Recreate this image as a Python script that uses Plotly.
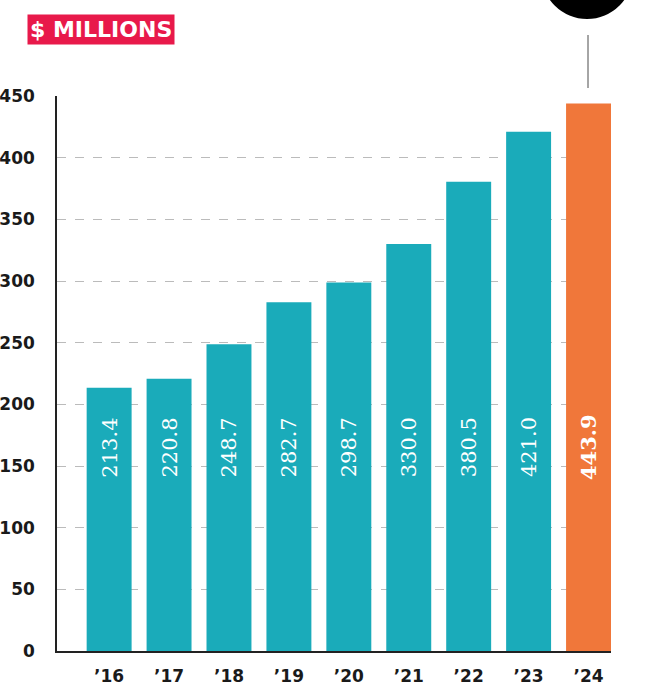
import plotly.graph_objects as go

years = ["’16", "’17", "’18", "’19", "’20", "’21", "’22", "’23", "’24"]
values = [213.4, 220.8, 248.7, 282.7, 298.7, 330.0, 380.5, 421.0, 443.9]
labels = ["213.4", "220.8", "248.7", "282.7", "298.7", "330.0", "380.5", "421.0", "443.9"]
y_ticks = [0, 50, 100, 150, 200, 250, 300, 350, 400, 450]

TEAL = "#1AABBA"
ORANGE = "#F0773A"
colors = [TEAL] * (len(years) - 1) + [ORANGE]

fig = go.Figure()
fig.add_trace(go.Bar(
    x=list(range(len(years))), y=values, marker=dict(color=colors, line=dict(width=0)),
    width=0.75, hoverinfo="skip",
))

SERIF = "DejaVu Serif"
LABEL_Y = 165
for i, (lab, v) in enumerate(zip(labels, values)):
    last = i == len(years) - 1
    fig.add_annotation(
        x=i, y=LABEL_Y, xref="x", yref="y", text=f"<b>{lab}</b>" if last else lab,
        textangle=-90, showarrow=False,
        font=dict(family=SERIF, size=21, color="white"),
    )

# title box
fig.add_annotation(
    x=-0.054, y=1.119, xref="paper", yref="paper", xanchor="left", yanchor="middle",
    text="<b>$ MILLIONS</b>", showarrow=False, bgcolor="#E8194A", borderpad=2,
    font=dict(family="DejaVu Sans", size=22, color="white"),
)

# black circle and connector line
fig.add_shape(type="circle", xref="paper", yref="paper", x0=0.874, x1=1.0397, y0=1.1387, y1=1.3045,
              fillcolor="black", line=dict(width=0), layer="above")
fig.add_shape(type="line", xref="paper", yref="paper", x0=0.9585, x1=0.9585, y0=1.0144, y1=1.110,
              line=dict(color="#888888", width=1.5))

fig.update_layout(
    width=654, height=687,
    margin=dict(l=57, r=43, t=96, b=36, autoexpand=False),
    plot_bgcolor="white", paper_bgcolor="white",
    showlegend=False, bargap=0.25,
    xaxis=dict(
        range=[-0.87, 8.375], tickmode="array", tickvals=list(range(len(years))), ticktext=years,
        showgrid=False, showline=True, linecolor="#222222", linewidth=1.5, zeroline=False,
        ticks="", ticklabelstandoff=9, automargin=False,
        tickfont=dict(family="DejaVu Sans", size=17, color="#1a1a1a", weight="bold"),
    ),
    yaxis=dict(
        range=[0, 450], tickmode="array", tickvals=y_ticks, ticktext=[str(t) for t in y_ticks],
        showgrid=True, gridcolor="#BBBBBB", griddash="dash", gridwidth=1,
        showline=True, linecolor="#222222", linewidth=1.5, zeroline=False,
        ticks="", ticklabelstandoff=17, automargin=False,
        tickfont=dict(family="DejaVu Sans", size=17, color="#1a1a1a", weight="bold"),
    ),
)

fig.write_html("out.html", config={"displayModeBar": False},
               post_script="document.body.style.margin='0';")
